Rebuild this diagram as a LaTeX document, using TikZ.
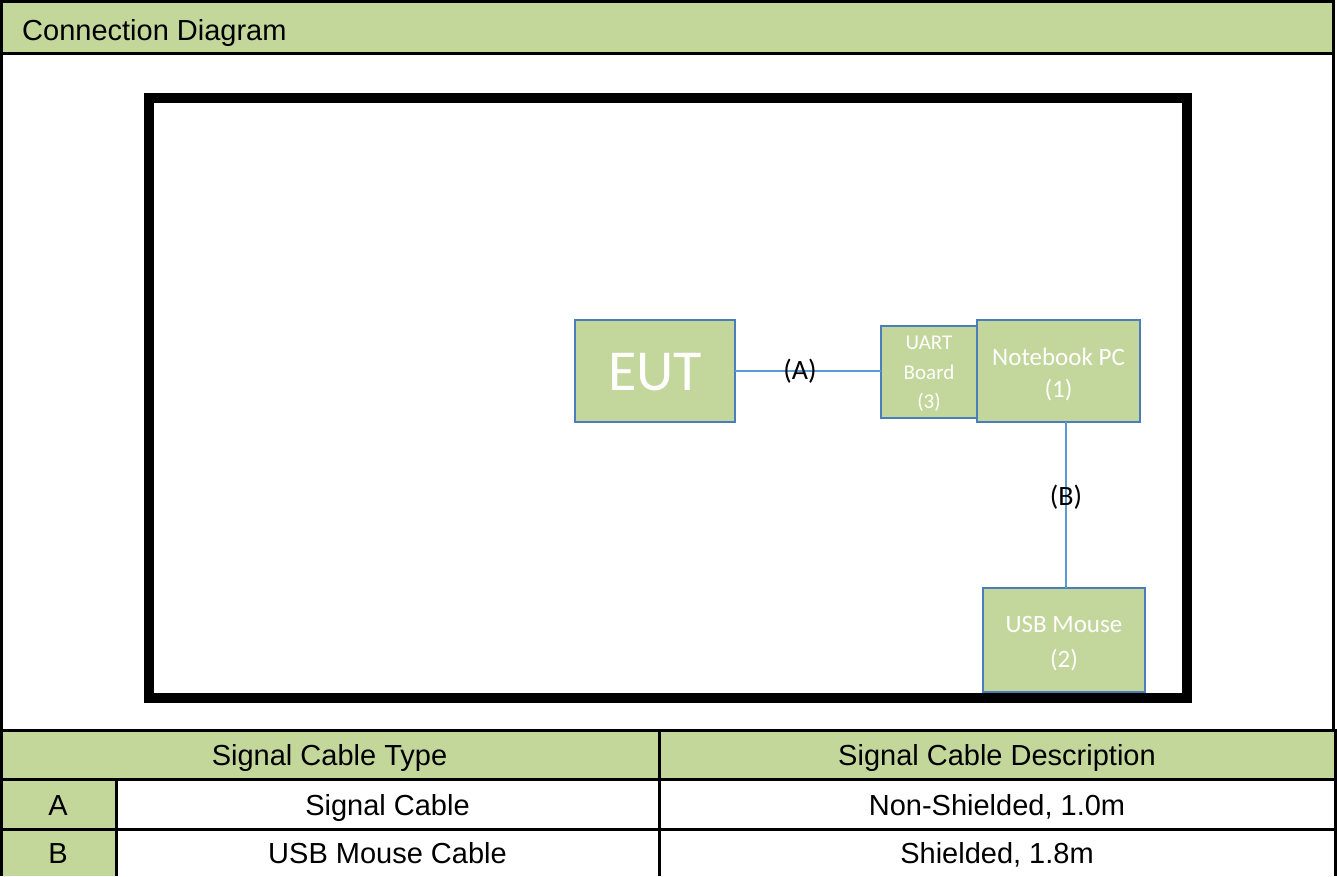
\documentclass[tikz,border=0pt]{standalone}
\usepackage{fontspec}
\setmainfont{Liberation Sans}
\newfontfamily\calfont{Carlito}
\definecolor{hdrgreen}{HTML}{C4D79B}
\definecolor{boxgreen}{HTML}{C3D69B}
\definecolor{boxedge}{HTML}{4A7EBB}
\definecolor{cable}{HTML}{5B9BD5}
\begin{document}
\begin{tikzpicture}[x=1pt,y=-1pt,
  device/.style={draw=boxedge,line width=1.6pt,fill=boxgreen,inner sep=0pt,outer sep=0pt},
  devtext/.style={inner sep=0pt,text=white,align=center},
  cableline/.style={draw=cable,line width=1.6pt},
  cablelabel/.style={inner sep=0pt,font=\calfont\fontsize{28}{30}\selectfont,text=black},
  tabletext/.style={inner sep=0pt,anchor=base,font=\fontsize{29}{32}\selectfont},
  rule/.style={line width=3pt,black}]
\useasboundingbox (0,0) rectangle (1337,876);
% header band
\fill[hdrgreen] (0,0) rectangle (1334,53.5);
\node[tabletext,anchor=base west] (title) at (22,40) {Connection Diagram};
% table fills
\fill[hdrgreen] (0,730) rectangle (1335,779.5);
\fill[hdrgreen] (0,779.5) rectangle (116,876);
% outer frame & table rules
\draw[rule] (1.5,0) -- (1.5,876);
\draw[rule] (0,1.5) -- (1334,1.5);
\draw[rule] (1333,0) -- (1333,730);
\draw[rule] (1335,730) -- (1335,876);
\draw[rule] (0,53.5) -- (1334,53.5);
\draw[rule] (0,730) -- (1337,730);
\draw[rule] (0,779.5) -- (1337,779.5);
\draw[rule] (0,829) -- (1337,829);
\draw[rule] (659,730) -- (659,876);
\draw[rule] (116,779.5) -- (116,876);
% inner thick frame
\draw[line width=10pt,black] (148.5,97.5) rectangle (1187,698);
% devices
\node[device,minimum width=160pt,minimum height=102pt] (eut) at (655,371) {};
\node[device,minimum width=96pt,minimum height=92pt] (uart) at (929,372) {};
\node[device,minimum width=163pt,minimum height=102pt] (nb) at (1058.5,371) {};
\node[device,minimum width=162pt,minimum height=104pt] (mouse) at (1064,640) {};
\node[devtext,font=\calfont\fontsize{58}{60}\selectfont] (eutt) at ([yshift=-1pt]eut.center) {EUT};
\node[devtext,font=\calfont\fontsize{21}{29.5}\selectfont] (uartt) at ([yshift=-2pt]uart.center) {UART\\Board\\(3)};
\node[devtext,font=\calfont\fontsize{25}{32}\selectfont] (nbt) at ([yshift=-4pt]nb.center) {Notebook PC\\(1)};
\node[devtext,font=\calfont\fontsize{25}{35}\selectfont] (mouset) at ([yshift=-4pt]mouse.center) {USB Mouse\\(2)};
% cables
\draw[cableline] (eut.east) -- (eut.east -| uart.west);
\draw[cableline] ([xshift=2pt]mouse.north) -- ([xshift=2pt]mouse.north |- nb.south);
\node[cablelabel] (la) at (800,371) {(A)};
\node[cablelabel] (lb) at (1066,497) {(B)};
% table texts
\node[tabletext] (h1) at (329.5,765) {Signal Cable Type};
\node[tabletext] (h2) at (997,765) {Signal Cable Description};
\node[tabletext] (ra) at (58,815) {A};
\node[tabletext] (rb) at (58,863) {B};
\node[tabletext] (ta) at (387.5,815) {Signal Cable};
\node[tabletext] (tb) at (387.5,863) {USB Mouse Cable};
\node[tabletext] (da) at (997,815) {Non-Shielded, 1.0m};
\node[tabletext] (db) at (997,863) {Shielded, 1.8m};
\end{tikzpicture}
\end{document}
